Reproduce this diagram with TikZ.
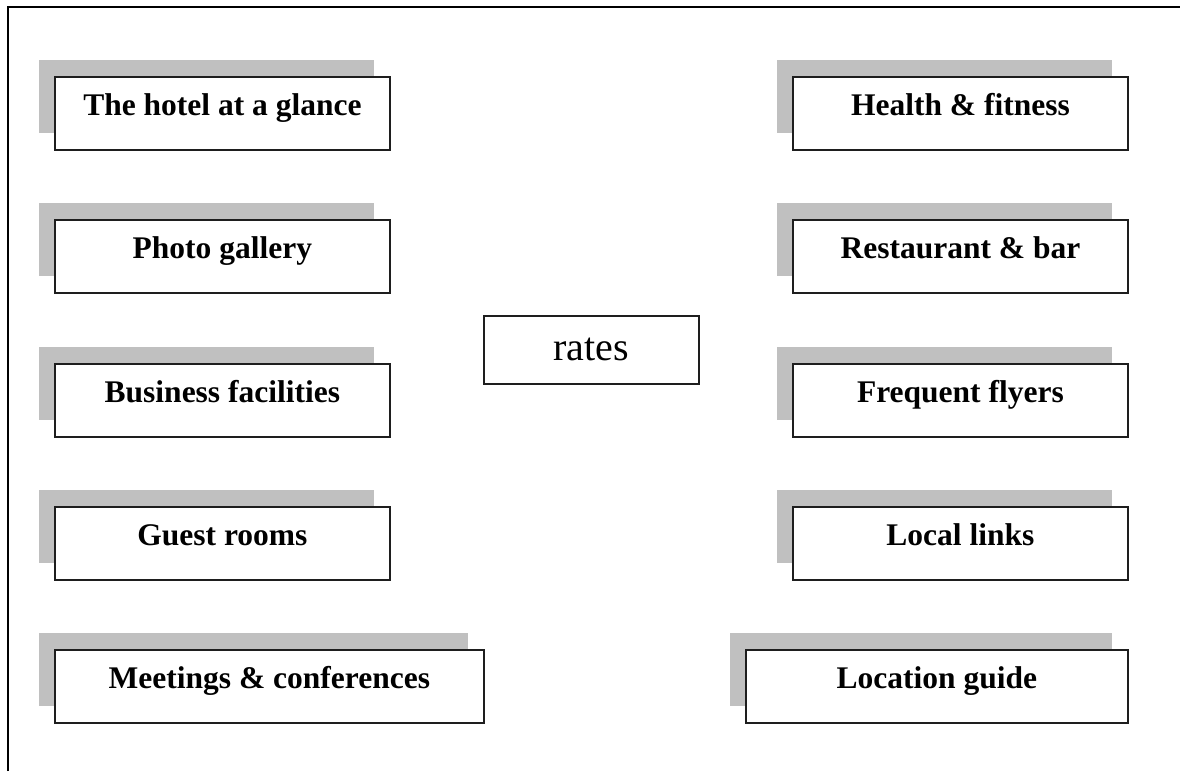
\documentclass[tikz,border=0pt]{standalone}
\usepackage{fontspec}
\setmainfont{Liberation Serif}
\usetikzlibrary{shadows}
\definecolor{shadowgray}{RGB}{192,192,192}
\definecolor{boxline}{RGB}{30,30,30}
\tikzset{
  menubox/.style={draw=boxline, line width=1.8pt, fill=white, rectangle,
    anchor=north west, inner sep=0pt, minimum width=335pt,
    text height=39pt, text depth=34pt, align=center,
    font=\fontsize{31.5}{36}\selectfont\bfseries,
    general shadow={shadow xshift=-16pt, shadow yshift=17pt, fill=shadowgray, draw=none}},
  widebox/.style={menubox, minimum width=429pt},
  ratebox/.style={draw=boxline, line width=1.8pt, fill=white, rectangle,
    anchor=north west, inner sep=0pt, minimum width=215pt,
    text height=45pt, text depth=23pt, font=\fontsize{40}{46}\selectfont},
  frameline/.style={line width=2.2pt, black}
}
\begin{document}
\begin{tikzpicture}[x=1pt,y=-1pt]
\useasboundingbox (0,0) rectangle (1180,771);
\coordinate (fb) at (8,771);
\coordinate (fc) at (8,7);
\coordinate (fr) at (1180,7);
\draw[frameline] (fb) -- (fc) -- (fr);
% left column
\node[menubox] (l1) at (54,76) {The hotel at a glance};
\node[menubox] (l2) at (54,219) {Photo gallery};
\node[menubox] (l3) at (54,363) {Business facilities};
\node[menubox] (l4) at (54,506) {Guest rooms};
\node[widebox] (l5) at (54,649) {Meetings \& conferences};
% right column
\node[menubox] (r1) at (792,76) {Health \& fitness};
\node[menubox] (r2) at (792,219) {Restaurant \& bar};
\node[menubox] (r3) at (792,363) {Frequent flyers};
\node[menubox] (r4) at (792,506) {Local links};
\node[menubox, minimum width=382pt] (r5) at (745,649) {Location guide};
% centre
\node[ratebox] (rates) at (483,315) {rates};
\end{tikzpicture}
\end{document}
